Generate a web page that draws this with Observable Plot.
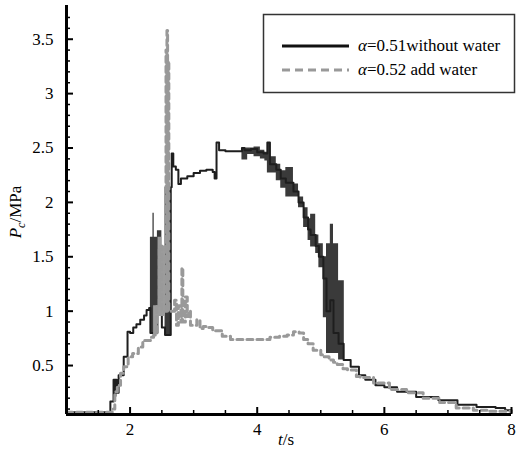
<!DOCTYPE html>
<html><head><meta charset="utf-8">
<script src="https://cdn.jsdelivr.net/npm/d3@7"></script>
<script src="https://cdn.jsdelivr.net/npm/@observablehq/plot@0.6"></script>
<style>body{margin:0;background:#fff}#chart{width:516px;height:454px}
#chart svg text{font-family:"Liberation Serif","Times New Roman",serif}</style>
</head><body><div id="chart"></div>
<script>
// alpha=0.51 without water (black solid)
const tBlack = [1.00,1.69,1.69,1.74,1.76,1.77,1.79,1.82,1.90,1.96,2.00,2.05,2.10,2.16,2.22,2.26,2.30,2.32,2.43,2.50,2.55,2.64,2.655,2.68,2.72,2.76,2.80,2.90,3.00,3.10,3.20,3.30,3.33,3.36,3.40,3.50,3.60,3.70,3.76,3.80,3.90,4.00,4.10,4.16,4.20,4.30,4.37,4.45,4.57,4.65,4.73,4.80,4.84,4.92,4.97,5.04,5.09,5.15,5.20,5.28,5.36,5.47,5.60,5.70,5.86,6.00,6.20,6.50,6.85,7.15,7.45,7.75,7.90,8.00];
const pBlack = [0.07,0.07,0.17,0.37,0.22,0.37,0.25,0.41,0.58,0.81,0.80,0.85,0.88,0.92,0.96,1.01,1.03,0.80,1.00,0.85,0.78,2.14,2.45,2.33,2.30,2.17,2.22,2.24,2.27,2.29,2.30,2.28,2.22,2.55,2.48,2.47,2.47,2.47,2.50,2.48,2.49,2.46,2.45,2.55,2.35,2.30,2.22,2.18,2.10,2.00,1.86,1.75,1.70,1.60,1.50,1.30,1.00,1.10,0.80,0.70,0.55,0.49,0.41,0.37,0.32,0.30,0.26,0.21,0.18,0.14,0.12,0.11,0.09,0.07];
// dark oscillation bands of the black curve (segment, t, low, high)
const bandBSeg = [1,1,1,1,1, 2,2,2, 3,3,3,3,3,3,3,3,3,3,3,3,3,3,3,3,3,3,3,3,3,3,3];
const bandBT   = [2.32,2.36,2.38,2.43,2.50, 2.55,2.59,2.64, 3.76,3.85,3.95,4.05,4.12,4.16,4.20,4.30,4.37,4.45,4.57,4.65,4.73,4.80,4.84,4.92,4.97,5.04,5.09,5.15,5.20,5.28,5.37];
const bandBLo  = [0.80,0.80,0.80,1.00,1.00, 0.78,0.78,2.14, 2.39,2.44,2.42,2.40,2.38,2.27,2.27,2.20,2.13,2.05,2.05,1.95,1.77,1.65,1.59,1.53,1.40,0.94,0.61,0.61,0.61,0.55,0.50];
const bandBHi  = [1.68,1.90,1.68,1.74,1.74, 2.14,2.14,2.45, 2.50,2.50,2.51,2.48,2.46,2.55,2.42,2.35,2.29,2.32,2.17,2.05,1.95,1.85,1.89,1.70,1.62,1.50,1.62,1.80,1.62,1.28,0.60];

// alpha=0.52 add water (gray dashed)
const tGray = [1.00,1.72,1.72,1.76,1.80,1.85,1.90,1.97,2.04,2.13,2.20,2.32,2.37,2.42,2.46,2.50,2.555,2.565,2.575,2.58,2.59,2.60,2.61,2.66,2.70,2.73,2.76,2.80,2.815,2.83,2.87,2.90,2.92,2.95,3.00,3.05,3.10,3.15,3.20,3.30,3.45,3.58,3.80,4.00,4.16,4.20,4.35,4.47,4.57,4.66,4.73,4.80,4.88,5.00,5.04,5.13,5.20,5.26,5.35,5.42,5.56,5.62,5.83,6.08,6.35,6.61,6.87,7.13,7.40,7.65,8.00];
const pGray = [0.07,0.07,0.10,0.26,0.32,0.43,0.49,0.58,0.61,0.67,0.73,0.76,0.78,1.05,1.60,1.00,1.00,3.40,1.00,3.58,1.00,3.30,1.00,1.00,1.10,0.87,1.05,0.90,1.40,0.90,1.13,0.95,1.00,0.87,0.87,0.92,0.84,0.86,0.85,0.82,0.77,0.74,0.74,0.74,0.74,0.76,0.77,0.78,0.81,0.80,0.74,0.70,0.64,0.60,0.58,0.55,0.53,0.51,0.47,0.46,0.40,0.39,0.34,0.28,0.25,0.20,0.16,0.11,0.09,0.08,0.08];
const bandGT  = [2.37,2.44,2.50,2.555];
const bandGLo = [0.78,0.95,0.95,0.95];
const bandGHi = [1.05,1.68,1.60,1.60];

const xMajor = [2,4,6,8];
const xMinor = [1.5,2.5,3,3.5,4.5,5,5.5,6.5,7,7.5];
const yMajor = [0.5,1,1.5,2,2.5,3,3.5];
const yMinor = d3.range(1,38).map(i => i/10).filter(v => !yMajor.some(m => Math.abs(m - v) < 1e-9));

const black = tBlack.map((t,i)=>({t, p:pBlack[i]}));
const gray = tGray.map((t,i)=>({t, p:pGray[i]}));
const bandB = bandBT.map((t,i)=>({t, lo:bandBLo[i], hi:bandBHi[i], seg:bandBSeg[i]}));
const bandG = bandGT.map((t,i)=>({t, lo:bandGLo[i], hi:bandGHi[i]}));

const FONT = "Liberation Serif";
const chart = Plot.plot({
  width: 516, height: 454,
  marginLeft: 66, marginRight: 5, marginTop: 5, marginBottom: 40,
  style: {fontFamily: FONT, fontSize: "17px", background: "#fff", color: "#000"},
  x: {domain: [1, 8]},
  y: {domain: [0.05, 3.81]},
  marks: [
    Plot.areaY(bandB, {x: "t", y1: "lo", y2: "hi", z: "seg", curve: "step-after", fill: "#3a3a3a"}),
    Plot.line(black, {x: "t", y: "p", curve: "step-after", stroke: "#1e1e1e", strokeWidth: 2}),
    Plot.areaY(bandG, {x: "t", y1: "lo", y2: "hi", curve: "step-after", fill: "#9c9c9c"}),
    Plot.line(gray, {x: "t", y: "p", curve: "step-after", stroke: "#999", strokeWidth: 3, strokeDasharray: "6,4"}),
    Plot.axisX({ticks: xMajor, tickSize: -7, tickPadding: 15, tickFormat: d => String(d), label: null, strokeWidth: 2}),
    Plot.axisX({ticks: xMinor, tickSize: -4, tickFormat: () => "", label: null, strokeWidth: 1.5}),
    Plot.axisY({ticks: yMajor, tickSize: -7, tickPadding: 20, tickFormat: d => String(d), label: null, strokeWidth: 2}),
    Plot.axisY({ticks: yMinor, tickSize: -4, tickFormat: () => "", label: null, strokeWidth: 1.5}),
    Plot.ruleY([0.05], {stroke: "#000", strokeWidth: 3}),
    Plot.ruleX([1], {stroke: "#000", strokeWidth: 3})
  ]
});
document.getElementById("chart").appendChild(chart);

const svg = d3.select(chart);
// y axis label
const yl = svg.append("text")
  .attr("transform", "translate(21,212) rotate(-90)")
  .attr("text-anchor", "middle")
  .style("font-size", "17px").attr("fill", "#000");
yl.append("tspan").attr("font-style", "italic").text("P");
yl.append("tspan").attr("font-style", "italic").style("font-size", "12px").attr("dy", 4).text("c");
yl.append("tspan").attr("dy", -4).text("/MPa");
// x axis label
const xl = svg.append("text")
  .attr("x", 286).attr("y", 445).attr("text-anchor", "middle")
  .style("font-size", "17px").attr("fill", "#000");
xl.append("tspan").attr("font-style", "italic").text("t");
xl.append("tspan").text("/s");

// legend
const lg = svg.append("g");
lg.append("rect").attr("x", 263.5).attr("y", 14.5).attr("width", 251).attr("height", 78)
  .attr("fill", "#fff").attr("stroke", "#333").attr("stroke-width", 1.5);
const entries = [
  {label: "=0.51without water", stroke: "#111", dash: null, y: 46},
  {label: "=0.52 add water", stroke: "#999", dash: "8,5", y: 70}
];
entries.forEach(e => {
  lg.append("line").attr("x1", 282).attr("x2", 349).attr("y1", e.y).attr("y2", e.y)
    .attr("stroke", e.stroke).attr("stroke-width", 3).attr("stroke-dasharray", e.dash);
  const t = lg.append("text").attr("x", 358).attr("y", e.y + 5).attr("text-anchor", "start")
    .style("font-size", "17px").attr("fill", "#000");
  t.append("tspan").attr("font-style", "italic").text("α");
  t.append("tspan").text(e.label);
});
</script>
</body></html>
